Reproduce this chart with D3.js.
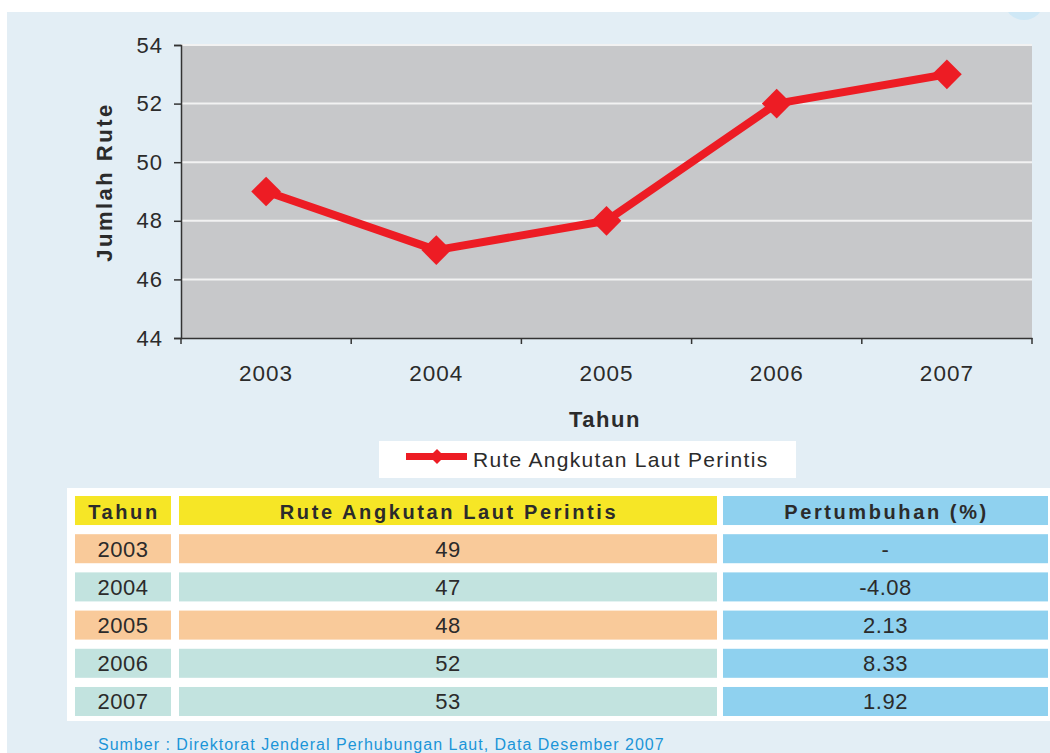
<!DOCTYPE html>
<html>
<head>
<meta charset="utf-8">
<script src="https://cdn.jsdelivr.net/npm/d3@7"></script>
<style>
  body { margin: 0; background: #fff; font-family: "Liberation Sans", Arial, sans-serif; }
  svg { display: block; }
</style>
</head>
<body>
<svg id="chart" width="1050" height="753"></svg>
<script>
"use strict";

var years = ["2003", "2004", "2005", "2006", "2007"];
var routes = [49, 47, 48, 52, 53];
var growth = ["-", "-4.08", "2.13", "8.33", "1.92"];
var yTicks = [44, 46, 48, 50, 52, 54];
var headers = ["Tahun", "Rute Angkutan Laut Perintis", "Pertumbuhan (%)"];
var seriesName = "Rute Angkutan Laut Perintis";
var source = "Sumber : Direktorat Jenderal Perhubungan Laut, Data Desember  2007";

var red = "#ed1c24";
var ink = "#2b2b2b";
var svg = d3.select("#chart");

// page background
svg.append("rect").attr("x", 7).attr("y", 12).attr("width", 1043).attr("height", 741).attr("fill", "#e3eef5");
svg.append("circle").attr("cx", 1024).attr("cy", 0).attr("r", 20).attr("fill", "#cfe8f6");
svg.append("rect").attr("x", 0).attr("y", 0).attr("width", 1050).attr("height", 12).attr("fill", "#fff");

var plotLeft = 181, plotRight = 1032, plotTop = 45, plotBottom = 338;

var x = d3.scaleBand().domain(years).range([plotLeft, plotRight]).padding(0);
var y = d3.scaleLinear().domain([44, 54]).range([plotBottom, plotTop]);

// plot area
svg.append("rect").attr("x", plotLeft).attr("y", plotTop)
    .attr("width", plotRight - plotLeft).attr("height", plotBottom - plotTop).attr("fill", "#c7c8ca");

svg.append("g").selectAll("line").data(yTicks.slice(1)).join("line")
    .attr("x1", plotLeft).attr("x2", plotRight)
    .attr("y1", function(d) { return y(d); }).attr("y2", function(d) { return y(d); })
    .attr("stroke", "#f2f2f2").attr("stroke-width", 2);

var yAxis = svg.append("g")
    .attr("transform", "translate(" + plotLeft + ",0)")
    .call(d3.axisLeft(y).tickValues(yTicks).tickSize(7).tickPadding(11).tickFormat(d3.format("d")));
yAxis.select(".domain").attr("stroke", "#333").attr("stroke-width", 1.5);
yAxis.selectAll(".tick line").attr("stroke", "#333").attr("stroke-width", 1.5);
yAxis.selectAll("text").attr("font-size", 22).attr("letter-spacing", 1).attr("fill", ink)
    .attr("font-family", "Liberation Sans, Arial");

var xAxis = svg.append("g")
    .attr("transform", "translate(0," + plotBottom + ")")
    .call(d3.axisBottom(x).tickSize(0).tickPadding(27));
xAxis.select(".domain").attr("stroke", "#333").attr("stroke-width", 1.5);
xAxis.selectAll("text").attr("font-size", 22.5).attr("letter-spacing", 1).attr("fill", ink)
    .attr("font-family", "Liberation Sans, Arial");

// category boundary ticks
var bounds = years.map(function(d) { return x(d); }).concat([x(years[years.length - 1]) + x.bandwidth()]);
svg.append("g").selectAll("line").data(bounds).join("line")
    .attr("x1", function(d) { return d; }).attr("x2", function(d) { return d; })
    .attr("y1", plotBottom).attr("y2", plotBottom + 6)
    .attr("stroke", "#333").attr("stroke-width", 1.5);

// axis titles
svg.append("text").attr("x", 605).attr("y", 427)
    .attr("text-anchor", "middle").attr("font-size", 22).attr("font-weight", "bold")
    .attr("fill", ink).attr("letter-spacing", 1.5).text("Tahun");
svg.append("text").attr("transform", "translate(112,182) rotate(-90)")
    .attr("text-anchor", "middle").attr("font-size", 22).attr("font-weight", "bold")
    .attr("letter-spacing", 2.5).attr("fill", ink).text("Jumlah Rute");

// line + markers
var cx = function(d, i) { return x(years[i]) + x.bandwidth() / 2; };
var line = d3.line().x(cx).y(function(d) { return y(d); });
svg.append("path").datum(routes).attr("d", line)
    .attr("fill", "none").attr("stroke", red).attr("stroke-width", 8).attr("stroke-linejoin", "round");

var diamond = d3.symbol().type(d3.symbolSquare).size(440);
svg.append("g").selectAll("path").data(routes).join("path")
    .attr("d", diamond)
    .attr("transform", function(d, i) { return "translate(" + cx(d, i) + "," + y(d) + ") rotate(45)"; })
    .attr("fill", red);

// legend
var lg = svg.append("g");
lg.append("rect").attr("x", 379).attr("y", 441).attr("width", 417).attr("height", 37).attr("fill", "#fff");
lg.append("line").attr("x1", 406).attr("x2", 467).attr("y1", 456.5).attr("y2", 456.5).attr("stroke", red).attr("stroke-width", 7);
lg.append("path").attr("d", d3.symbol().type(d3.symbolSquare).size(112))
    .attr("transform", "translate(437,456.5) rotate(45)").attr("fill", red);
lg.append("text").attr("x", 473).attr("y", 467).attr("font-size", 21).attr("letter-spacing", 1.3)
    .attr("fill", ink).text(seriesName);

// table
var tb = svg.append("g");
tb.append("rect").attr("x", 67).attr("y", 488).attr("width", 983).attr("height", 233).attr("fill", "#fff");

var cols = [{ x: 75, w: 96 }, { x: 179, w: 538 }, { x: 723, w: 325 }];
var rowY = d3.scaleBand().domain(d3.range(years.length + 1)).range([496, 716]).paddingInner(0.24);
var rowH = rowY.bandwidth();

var headFill = ["#f6e626", "#f6e626", "#8fd1ef"];
cols.forEach(function(c, j) {
    tb.append("rect").attr("x", c.x).attr("y", rowY(0)).attr("width", c.w).attr("height", rowH).attr("fill", headFill[j]);
    tb.append("text").attr("x", c.x + c.w / 2 + 1).attr("y", rowY(0) + rowH / 2 + 8)
        .attr("text-anchor", "middle").attr("font-size", 20).attr("font-weight", "bold")
        .attr("letter-spacing", 2.6).attr("fill", ink).text(headers[j]);
});

years.forEach(function(yr, i) {
    var ry = rowY(i + 1);
    var rowFill = (i === 0 || i === 2) ? "#f9ca9a" : "#c2e3df";
    var vals = [yr, String(routes[i]), growth[i]];
    cols.forEach(function(c, j) {
        tb.append("rect").attr("x", c.x).attr("y", ry).attr("width", c.w).attr("height", rowH)
            .attr("fill", j === 2 ? "#8fd1ef" : rowFill);
        tb.append("text").attr("x", c.x + c.w / 2).attr("y", ry + rowH / 2 + 8)
            .attr("text-anchor", "middle").attr("font-size", 22).attr("letter-spacing", 0.5)
            .attr("fill", ink).text(vals[j]);
    });
});

// source
svg.append("text").attr("x", 98).attr("y", 750).attr("font-size", 16).attr("letter-spacing", 1)
    .attr("fill", "#1b95d8").text(source);
</script>
</body>
</html>
